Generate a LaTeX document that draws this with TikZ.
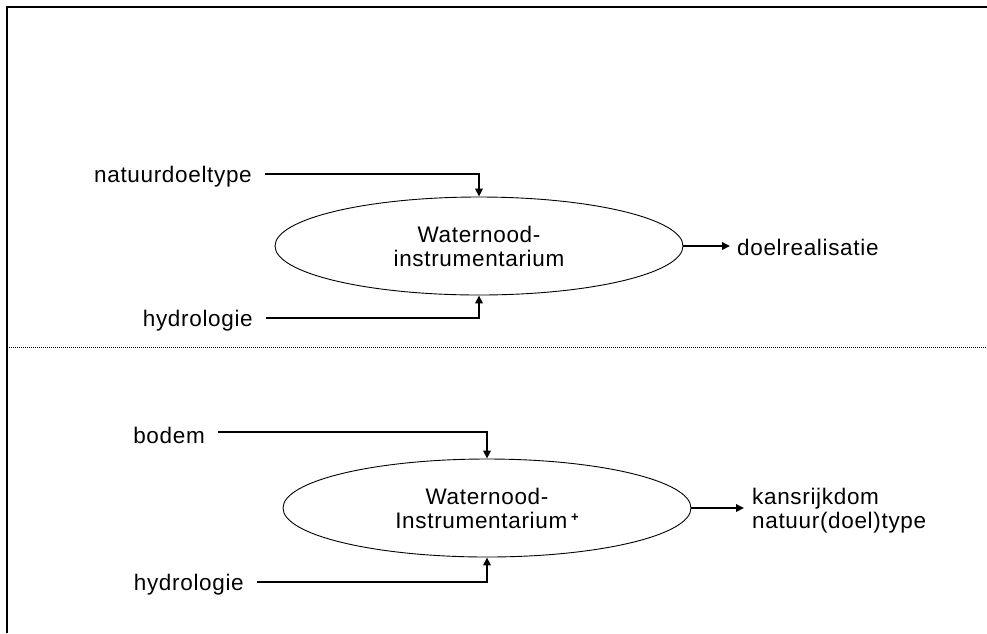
\documentclass[tikz,border=0pt]{standalone}
\usepackage{fontspec}
\setmainfont{Liberation Sans}[LetterSpace=3]
\usetikzlibrary{shapes.geometric,arrows.meta}
\begin{document}
\begin{tikzpicture}[x=1pt,y=-1pt,
  lbl/.style={inner sep=3pt,font=\fontsize{22.5}{24}\selectfont,align=left},
  model/.style={draw,ellipse,line width=0.9pt,minimum width=408pt,minimum height=98pt,
    inner sep=0pt,align=center,font=\fontsize{22.5}{24}\selectfont},
  conn/.style={line width=1.8pt},
  flow/.style={conn,-{Triangle[length=8pt,width=7.5pt]}},
  frame/.style={line width=1.6pt},
  divider/.style={line width=1pt,dash pattern=on 1pt off 1pt}]
\useasboundingbox (0,0) rectangle (987,633);

% frame and divider
\coordinate (tl) at (7,7);
\coordinate (tr) at (987,7);
\coordinate (bl) at (7,633);
\coordinate (dl) at (7,347);
\coordinate (dr) at (987,347);
\draw[frame] (bl) -- (tl) -- (tr);
\draw[divider] (dl) -- (dr);

% upper model
\node[model] (m1) at (479,246) {Waternood-\\instrumentarium};
\node[lbl,anchor=east] (nat) at (255,177) {natuurdoeltype};
\node[lbl,anchor=east] (hyd1) at (256,321) {hydrologie};
\node[lbl,anchor=west] (doel) at (734,247) {doelrealisatie};
\draw[flow] ([xshift=10pt,yshift=3pt]nat.east) -| (m1.north);
\draw[flow] ([xshift=10pt,yshift=3pt]hyd1.east) -| (m1.south);
\draw[flow] (m1.east) -- ([xshift=-4pt]doel.west |- m1.east);

% lower model
\node[model] (m2) at (487,508) {Waternood-\\Instrumentarium\,\raisebox{0.55ex}{\fontsize{13}{13}\selectfont\bfseries +}};
\node[lbl,anchor=east] (bod) at (208,435) {bodem};
\node[lbl,anchor=east] (hyd2) at (247,585) {hydrologie};
\node[lbl,anchor=west] (kans) at (749,511) {kansrijkdom\\natuur(doel)type};
\draw[flow] ([xshift=10pt,yshift=3pt]bod.east) -| (m2.north);
\draw[flow] ([xshift=10pt,yshift=3pt]hyd2.east) -| (m2.south);
\draw[flow] (m2.east) -- ([xshift=-5pt]kans.west |- m2.east);
\end{tikzpicture}
\end{document}
